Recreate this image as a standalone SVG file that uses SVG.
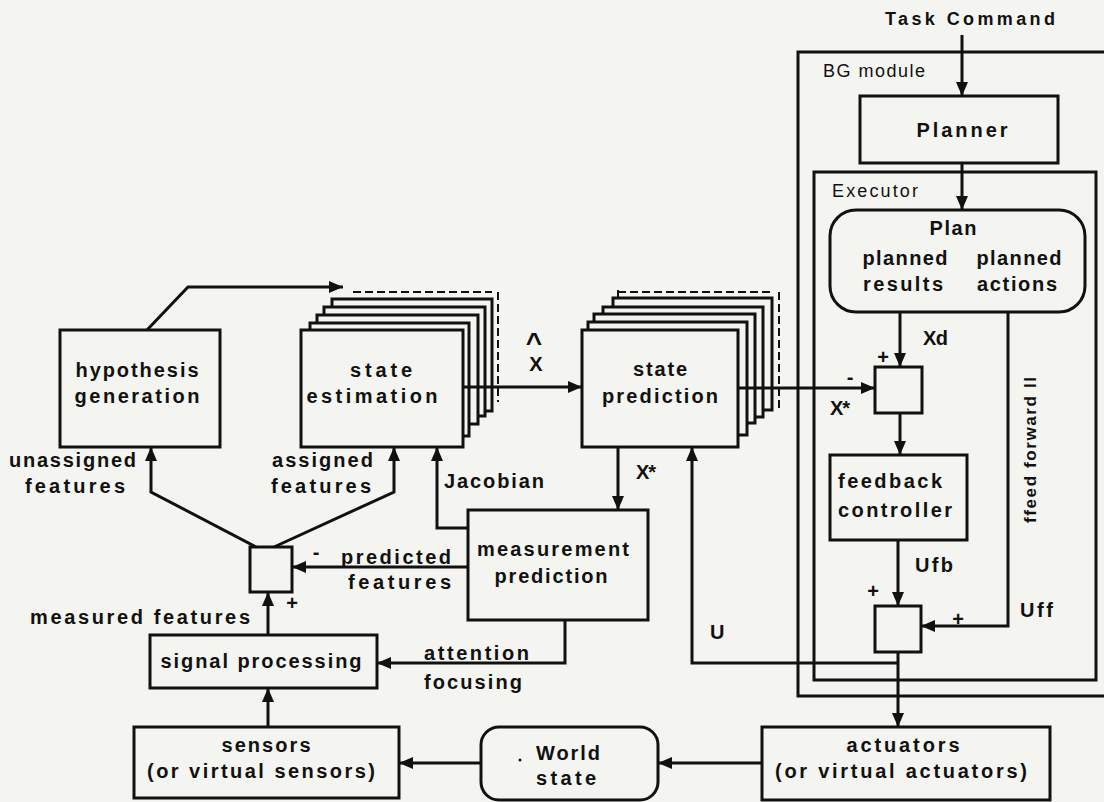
<svg xmlns="http://www.w3.org/2000/svg" width="1104" height="802" viewBox="0 0 1104 802">
<defs>
<style>
.b{font-family:"Liberation Sans",Arial,sans-serif;font-weight:bold;font-size:20px;fill:#111}
.r{font-family:"Liberation Sans",Arial,sans-serif;font-size:18px;fill:#111}
.m{text-anchor:middle}
.box{fill:#f4f4f0;stroke:#111;stroke-width:3}
.ln{fill:none;stroke:#111;stroke-width:3}
.dash{fill:none;stroke:#111;stroke-width:2;stroke-dasharray:8,4}
</style>
<marker id="ar" markerUnits="userSpaceOnUse" markerWidth="15" markerHeight="13" refX="14" refY="6" orient="auto">
<path d="M0,0 L14,6 L0,12 z" fill="#111"/>
</marker>
</defs>
<rect x="0" y="0" width="1104" height="802" fill="#f4f4f0"/>

<g id="bg-module">
<rect x="798" y="52" width="320" height="644" class="ln"/>
<text x="823" y="77" class="r" textLength="102" lengthAdjust="spacing">BG module</text>
</g>
<g id="executor">
<rect x="814" y="172" width="282" height="508" class="ln"/>
<text x="832" y="197" class="r" textLength="86" lengthAdjust="spacing">Executor</text>
</g>
<g id="task-command">
<text x="970" y="25" class="b m" style="font-size:18px" textLength="170" lengthAdjust="spacing">Task Command</text>
</g>
<g id="planner">
<rect x="860" y="96" width="198" height="67" class="box"/>
<text x="962" y="137" class="b m" textLength="91" lengthAdjust="spacing">Planner</text>
</g>
<g id="plan">
<rect x="830" y="210" width="255" height="102" rx="26" class="box"/>
<text x="953" y="235" class="b m" textLength="47" lengthAdjust="spacing">Plan</text>
<text x="905" y="265" class="b m" textLength="85" lengthAdjust="spacing">planned</text>
<text x="903" y="291" class="b m" textLength="80" lengthAdjust="spacing">results</text>
<text x="1019" y="265" class="b m" textLength="85" lengthAdjust="spacing">planned</text>
<text x="1017" y="291" class="b m" textLength="80" lengthAdjust="spacing">actions</text>
</g>
<g id="sum-xd">
<rect x="875" y="367" width="47" height="46" class="box"/>
</g>
<g id="feedback-controller">
<rect x="830" y="455" width="137" height="85" class="box"/>
<text x="838" y="488" class="b" textLength="104" lengthAdjust="spacing">feedback</text>
<text x="838" y="517" class="b" textLength="114" lengthAdjust="spacing">controller</text>
</g>
<g id="sum-u">
<rect x="875" y="606" width="46" height="46" class="box"/>
</g>
<g id="actuators">
<rect x="762" y="727" width="288" height="73" class="box"/>
<text x="903" y="752" class="b m" textLength="113" lengthAdjust="spacing">actuators</text>
<text x="901" y="778" class="b m" textLength="252" lengthAdjust="spacing">(or virtual actuators)</text>
</g>
<g id="world-state">
<rect x="481" y="727" width="177" height="73" rx="18" class="box"/>
<circle cx="520" cy="760" r="1.5" fill="#111"/>
<text x="568" y="760" class="b m" textLength="64" lengthAdjust="spacing">World</text>
<text x="566" y="785" class="b m" textLength="60" lengthAdjust="spacing">state</text>
</g>
<g id="sensors">
<rect x="134" y="727" width="265" height="71" class="box"/>
<text x="266" y="752" class="b m" textLength="89" lengthAdjust="spacing">sensors</text>
<text x="261" y="778" class="b m" textLength="228" lengthAdjust="spacing">(or virtual sensors)</text>
</g>
<g id="signal-processing">
<rect x="150" y="635" width="227" height="53" class="box"/>
<text x="261" y="668" class="b m" textLength="201" lengthAdjust="spacing">signal processing</text>
</g>
<g id="sum-features">
<rect x="250" y="547" width="42" height="45" class="box"/>
</g>
<g id="measurement-prediction">
<rect x="468" y="510" width="180" height="110" class="box"/>
<text x="553" y="556" class="b m" textLength="152" lengthAdjust="spacing">measurement</text>
<text x="551" y="583" class="b m" textLength="113" lengthAdjust="spacing">prediction</text>
</g>
<g id="hypothesis-generation">
<rect x="60" y="330" width="160" height="117" class="box"/>
<text x="137" y="377" class="b m" textLength="123" lengthAdjust="spacing">hypothesis</text>
<text x="137" y="403" class="b m" textLength="125" lengthAdjust="spacing">generation</text>
</g>
<g id="state-estimation">
<path d="M353,292 H492 M498,292 V402" class="dash"/>
<rect x="332" y="299" width="160" height="112" class="box"/>
<rect x="324" y="307" width="161" height="109" class="box"/>
<rect x="317" y="315" width="161" height="109" class="box"/>
<rect x="310" y="323" width="159" height="113" class="box"/>
<rect x="301" y="330" width="162" height="117" class="box"/>
<text x="381" y="377" class="b m" textLength="62" lengthAdjust="spacing">state</text>
<text x="372" y="403" class="b m" textLength="131" lengthAdjust="spacing">estimation</text>
</g>
<g id="state-prediction">
<path d="M618,292 H772 M779,292 V410 M618,290 V298" class="dash"/>
<rect x="613" y="298" width="159" height="112" class="box"/>
<rect x="603" y="307" width="160" height="110" class="box"/>
<rect x="594" y="314" width="161" height="109" class="box"/>
<rect x="588" y="322" width="159" height="113" class="box"/>
<rect x="582" y="330" width="156" height="117" class="box"/>
<text x="660" y="376" class="b m" textLength="54" lengthAdjust="spacing">state</text>
<text x="660" y="403" class="b m" textLength="116" lengthAdjust="spacing">prediction</text>
</g>

<g id="connectors">
<path d="M962,35 V96" class="ln" marker-end="url(#ar)"/>
<path d="M962,163 V210" class="ln" marker-end="url(#ar)"/>
<path d="M900,312 V367" class="ln" marker-end="url(#ar)"/>
<path d="M900,413 V455" class="ln" marker-end="url(#ar)"/>
<path d="M898,540 V606" class="ln" marker-end="url(#ar)"/>
<path d="M1008,312 V626 H921" class="ln" marker-end="url(#ar)"/>
<path d="M738,388 H875" class="ln" marker-end="url(#ar)"/>
<path d="M898,652 V727" class="ln" marker-end="url(#ar)"/>
<path d="M898,663 H692 V447" class="ln" marker-end="url(#ar)"/>
<path d="M762,763 H658" class="ln" marker-end="url(#ar)"/>
<path d="M481,763 H399" class="ln" marker-end="url(#ar)"/>
<path d="M268,727 V688" class="ln" marker-end="url(#ar)"/>
<path d="M268,635 V592" class="ln" marker-end="url(#ar)"/>
<path d="M468,567 H292" class="ln" marker-end="url(#ar)"/>
<path d="M565,620 V663 H377" class="ln" marker-end="url(#ar)"/>
<path d="M468,528 H437 V447" class="ln" marker-end="url(#ar)"/>
<path d="M618,447 V510" class="ln" marker-end="url(#ar)"/>
<path d="M463,387 H582" class="ln" marker-end="url(#ar)"/>
<path d="M256,547 L151,492 V447" class="ln" marker-end="url(#ar)"/>
<path d="M274,547 L394,492 V447" class="ln" marker-end="url(#ar)"/>
<path d="M147,330 L188,287 H343" class="ln" marker-end="url(#ar)"/>
</g>

<g id="labels">
<text x="534" y="352" class="b m" style="font-size:28px">^</text>
<text x="536" y="371" class="b m">X</text>
<text x="923" y="345" class="b" textLength="25" lengthAdjust="spacing">Xd</text>
<text x="883" y="364" class="b m">+</text>
<text x="850" y="384" class="b m">-</text>
<text x="830" y="415" class="b" textLength="20" lengthAdjust="spacing">X*</text>
<text x="915" y="572" class="b" textLength="38" lengthAdjust="spacing">Ufb</text>
<text x="873" y="598" class="b m">+</text>
<text x="958" y="626" class="b m">+</text>
<text x="1020" y="617" class="b" textLength="33" lengthAdjust="spacing">Uff</text>
<text x="710" y="639" class="b">U</text>
<text transform="translate(1036,450) rotate(-90)" class="b m" style="font-size:17px" textLength="146" lengthAdjust="spacing">ffeed forward ll</text>
<text x="30" y="624" class="b" textLength="220" lengthAdjust="spacing">measured features</text>
<text x="292" y="610" class="b m">+</text>
<text x="316" y="559" class="b m">-</text>
<text x="341" y="564" class="b" textLength="110" lengthAdjust="spacing">predicted</text>
<text x="348" y="589" class="b" textLength="103" lengthAdjust="spacing">features</text>
<text x="424" y="660" class="b" textLength="105" lengthAdjust="spacing">attention</text>
<text x="424" y="689" class="b" textLength="98" lengthAdjust="spacing">focusing</text>
<text x="444" y="488" class="b" textLength="100" lengthAdjust="spacing">Jacobian</text>
<text x="636" y="479" class="b" textLength="20" lengthAdjust="spacing">X*</text>
<text x="9" y="467" class="b" textLength="127" lengthAdjust="spacing">unassigned</text>
<text x="25" y="493" class="b" textLength="100" lengthAdjust="spacing">features</text>
<text x="272" y="467" class="b" textLength="101" lengthAdjust="spacing">assigned</text>
<text x="271" y="493" class="b" textLength="100" lengthAdjust="spacing">features</text>
</g>
</svg>
